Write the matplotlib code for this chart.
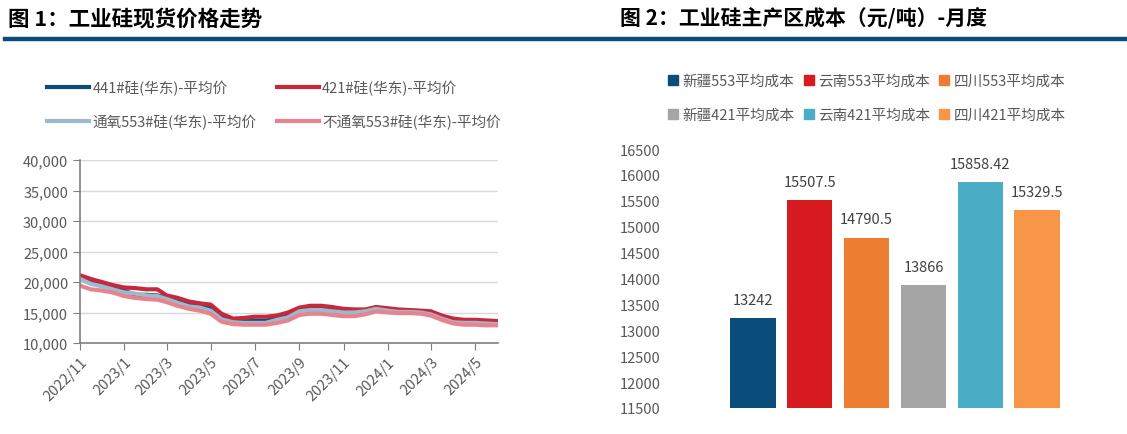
import matplotlib.pyplot as plt
import matplotlib.dates as mdates
from matplotlib.patches import Patch
from matplotlib.lines import Line2D
import pandas as pd

plt.rcParams['font.family'] = ['Noto Sans CJK SC', 'DejaVu Sans']

# left chart: spot prices (half-monthly)
dates = pd.to_datetime([
    "2022-11-01", "2022-11-16", "2022-12-01", "2022-12-16",
    "2023-01-01", "2023-01-16", "2023-02-01", "2023-02-16",
    "2023-03-01", "2023-03-16", "2023-04-01", "2023-04-16",
    "2023-05-01", "2023-05-16", "2023-06-01", "2023-06-16",
    "2023-07-01", "2023-07-16", "2023-08-01", "2023-08-16",
    "2023-09-01", "2023-09-16", "2023-10-01", "2023-10-16",
    "2023-11-01", "2023-11-16", "2023-12-01", "2023-12-16",
    "2024-01-01", "2024-01-16", "2024-02-01", "2024-02-16",
    "2024-03-01", "2024-03-16", "2024-04-01", "2024-04-16",
    "2024-05-01", "2024-05-16", "2024-06-01"])
si441 = [20800, 20200, 19600, 19100, 18600, 17900, 17900, 17800,
         17400, 17000, 16200, 16100, 15700, 14300, 13700, 13700,
         13600, 13600, 14200, 14600, 15500, 15700, 15700, 15500,
         15200, 15200, 15300, 15800, 15500, 15300, 15200, 15100,
         14800, 14100, 13700, 13600, 13600, 13500, 13500]
si421 = [21100, 20500, 20000, 19500, 19100, 19000, 18800, 18800,
         17800, 17400, 16800, 16500, 16300, 14800, 14000, 14100,
         14300, 14300, 14500, 15000, 15800, 16100, 16100, 15900,
         15600, 15500, 15500, 15900, 15700, 15500, 15400, 15300,
         15200, 14500, 14000, 13800, 13800, 13700, 13600]
si553_o = [20500, 19700, 19300, 18800, 18300, 18100, 17800, 17700,
           17200, 16600, 16000, 15800, 15300, 13900, 13400, 13300,
           13300, 13300, 13800, 14200, 15200, 15400, 15400, 15200,
           15000, 15000, 15200, 15600, 15300, 15100, 15100, 15000,
           14700, 14000, 13400, 13300, 13300, 13200, 13100]
si553_n = [19400, 18800, 18600, 18300, 17700, 17400, 17200, 17100,
           16700, 16100, 15600, 15300, 14800, 13500, 13100, 13000,
           13000, 13000, 13300, 13700, 14600, 14800, 14800, 14600,
           14400, 14400, 14700, 15200, 15000, 14900, 14900, 14800,
           14500, 13800, 13200, 13000, 13000, 12900, 12900]

# right chart: regional costs
cost_names = ["新疆553平均成本", "云南553平均成本", "四川553平均成本",
              "新疆421平均成本", "云南421平均成本", "四川421平均成本"]
cost_values = [13242, 15507.5, 14790.5, 13866, 15858.42, 15329.5]
cost_labels = ["13242", "15507.5", "14790.5", "13866", "15858.42", "15329.5"]
cost_colors = ["#0B4D7A", "#D71920", "#ED7D31", "#A5A5A5", "#4BACC6", "#F79646"]

txt = "#595959"
fig = plt.figure(figsize=(11.27, 4.35), dpi=100)

# titles and blue rule
fig.text(8 / 1127, 1 - 19 / 435, "图 1：工业硅现货价格走势", fontsize=15.5,
         fontweight="bold", va="center", ha="left")
fig.text(620 / 1127, 1 - 19 / 435, "图 2：工业硅主产区成本（元/吨）-月度", fontsize=15,
         fontweight="bold", va="center", ha="left")
fig.add_artist(Line2D([5 / 1127, 1], [1 - 40 / 435] * 2, color="#0B4D7A", lw=3.2))

# ---- left: price lines
ax1 = fig.add_axes([80 / 1127, 1 - 344 / 435, 418 / 1127, 183 / 435])
series = [("441#硅(华东)-平均价", si441, "#0B4D7A"),
          ("421#硅(华东)-平均价", si421, "#C8283C"),
          ("通氧553#硅(华东)-平均价", si553_o, "#9DB9CC"),
          ("不通氧553#硅(华东)-平均价", si553_n, "#E5848E")]
handles = []
for name, vals, c in series:
    h, = ax1.plot(dates, vals, color=c, lw=3, label=name)
    handles.append(h)
ax1.set_ylim(10000, 40000)
ax1.set_yticks(range(10000, 40001, 5000))
ax1.set_yticklabels([f"{v:,}" for v in range(10000, 40001, 5000)])
ax1.set_xlim(pd.Timestamp("2022-11-01"), pd.Timestamp("2024-06-02"))
ax1.xaxis.set_major_locator(mdates.MonthLocator(bymonth=[1, 3, 5, 7, 9, 11]))
ax1.xaxis.set_major_formatter(mdates.DateFormatter("%Y/%-m"))
ax1.grid(axis="y", color="#D9D9D9", lw=1)
ax1.set_axisbelow(True)
for s in ["top", "right"]:
    ax1.spines[s].set_visible(False)
for s in ["left", "bottom"]:
    ax1.spines[s].set_color("#7F7F7F")
    ax1.spines[s].set_linewidth(1.2)
ax1.tick_params(axis="both", colors="#7F7F7F", labelcolor=txt, labelsize=10.5, length=5)
plt.setp(ax1.get_xticklabels(), rotation=45, ha="right", rotation_mode="anchor")
order = [0, 2, 1, 3]
fig.legend([handles[i] for i in order], [series[i][0] for i in order], ncol=2,
           loc="upper left", bbox_to_anchor=(34 / 1127, 1 - 68 / 435), frameon=False,
           fontsize=10.5, labelcolor=txt, handlelength=2.9, handletextpad=0.2,
           columnspacing=1.4, labelspacing=1.25)

# ---- right: cost bars
ax2 = fig.add_axes([680 / 1127, 1 - 409 / 435, 430 / 1127, 259 / 435])
xs = range(len(cost_values))
bars = ax2.bar(xs, [v - 11500 for v in cost_values], bottom=11500, width=0.8,
               color=cost_colors)
for x, v, lab in zip(xs, cost_values, cost_labels):
    ax2.annotate(lab, (x, v), xytext=(0, 8), textcoords="offset points",
                 ha="center", va="bottom", fontsize=10.5, color="#404040")
ax2.set_ylim(11500, 16500)
ax2.set_yticks(range(11500, 16501, 500))
ax2.set_xlim(-1.28, 6.28)
ax2.set_xticks([])
for s in ax2.spines.values():
    s.set_visible(False)
ax2.tick_params(axis="y", length=0, labelcolor=txt, labelsize=10.5, pad=14)
patches = [Patch(color=c) for c in cost_colors]
order2 = [0, 3, 1, 4, 2, 5]
fig.legend([patches[i] for i in order2], [cost_names[i] for i in order2], ncol=3,
           loc="upper left", bbox_to_anchor=(655 / 1127, 1 - 62 / 435), frameon=False,
           fontsize=10.5, labelcolor=txt, handlelength=0.7, handleheight=0.7,
           handletextpad=0.3, columnspacing=0.6, labelspacing=1.35)

fig.savefig("out.png", dpi=100)
